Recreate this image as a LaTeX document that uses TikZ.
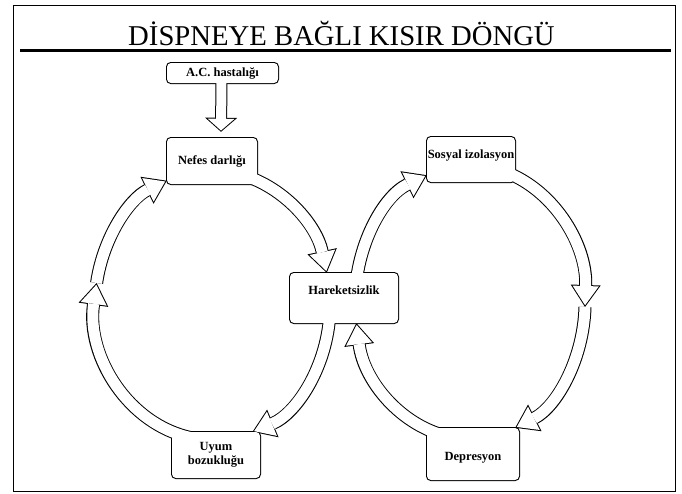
\documentclass[tikz,border=0pt]{standalone}
\usepackage{fontspec}
\setmainfont{Liberation Serif}
\usetikzlibrary{arrows.meta,backgrounds,calc}

\tikzset{
  box/.style={fill=white, rounded corners=4pt, inner xsep=0pt, inner ysep=0pt,
    font=\bfseries\fontsize{12.5}{14}\selectfont},
  boxrim/.style={line width=1.6pt, rounded corners=4pt},
  hollow/.style={white, line width=11pt, shorten >=1.8pt,
    -{Triangle[length=19.2pt, width=26.2pt, line width=0pt]},
    preaction={draw=black, line width=13pt, shorten >=0pt,
      -{Triangle[length=22pt, width=30pt, line width=0pt]}}},
  hollowdown/.style={white, line width=10pt, shorten >=1.3pt,
    -{Triangle[length=11.7pt, width=26.7pt, line width=0pt]},
    preaction={draw=black, line width=12pt, shorten >=0pt,
      -{Triangle[length=14pt, width=32pt, line width=0pt]}}}
}

\begin{document}
\begin{tikzpicture}[x=1pt, y=-1pt]
  \useasboundingbox (0,0) rectangle (682,493);
  \draw[line width=1pt] (13,5) rectangle (675,491);

  % title and rule
  \node[anchor=base, font=\fontsize{28.7}{30}\selectfont] (title) at (341.5,45) {DİSPNEYE BAĞLI KISIR DÖNGÜ};
  \draw[line width=3pt] (20,50) -- (671,50);

  % boxes
  \node[box, minimum width=111pt, text height=13pt, text depth=7pt] (ac) at (222.5,73) {A.C. hastalığı};
  \node[box, minimum width=90pt, text height=26pt, text depth=20pt] (nefes) at (212,161) {Nefes darlığı};
  \node[box, minimum width=108pt, text height=21pt, text depth=29pt] (hareket) at (344,298) {Hareketsizlik};
  \node[box, minimum width=88pt, text height=21pt, text depth=24pt] (sosyal) at (471,159.5) {Sosyal izolasyon};
  \node[box, minimum width=88pt, minimum height=46pt, align=center] (uyum) at (216,455) {Uyum\\bozukluğu};
  \node[box, minimum width=92pt, text height=32pt, text depth=20pt] (depres) at (473,454) {Depresyon};

  \coordinate (lefttip) at (96.6,283);
  \coordinate (righttip) at (585,307);

  \begin{scope}[on background layer]
    \foreach \n in {ac,nefes,hareket,sosyal,uyum,depres}
      \draw[boxrim] (\n.south west) rectangle (\n.north east);

    % trigger
    \draw[hollowdown] ($(ac.south)+(-1,-4)$) -- ($(nefes.north)+(9,-6)$);

    % left loop
    \draw[hollow] ($(nefes.south east)+(-14,-9)$) .. controls +(41.5,12.8) and +(-10.2,-47.9) .. ($(hareket.north)+(-17.3,0)$);
    \draw[hollow] ($(hareket.south)+(-14.4,-6.2)$) .. controls +(-4,52.5) and +(43.1,-17.8) .. ($(uyum.north east)+(-7.7,0)$);
    \draw[hollow] ($(uyum.north west)+(20,6)$) .. controls +(-63.4,-12.8) and +(-10.5,73) .. (lefttip);
    \draw[hollow] (lefttip) .. controls +(6.6,-45.8) and +(-37.2,18) .. ($(nefes.south west)+(0,-3.5)$);

    % right loop
    \draw[hollow] ($(hareket.center)+(11,4)$) .. controls +(0,-55.8) and +(-43.5,20.9) .. ($(sosyal.south west)+(0,-7)$);
    \draw[hollow] ($(sosyal.south east)+(-15,-12)$) .. controls +(51.8,16.5) and +(2,-63.8) .. (righttip);
    \draw[hollow] (righttip) .. controls +(-1.6,53) and +(41,-20.8) .. ($(depres.north east)+(-4,0)$);
    \draw[hollow] ($(depres.north west)+(23,9)$) .. controls +(-48.5,-10.2) and +(7.5,58) .. ($(hareket.south)+(12.4,0)$);
  \end{scope}
\end{tikzpicture}
\end{document}
